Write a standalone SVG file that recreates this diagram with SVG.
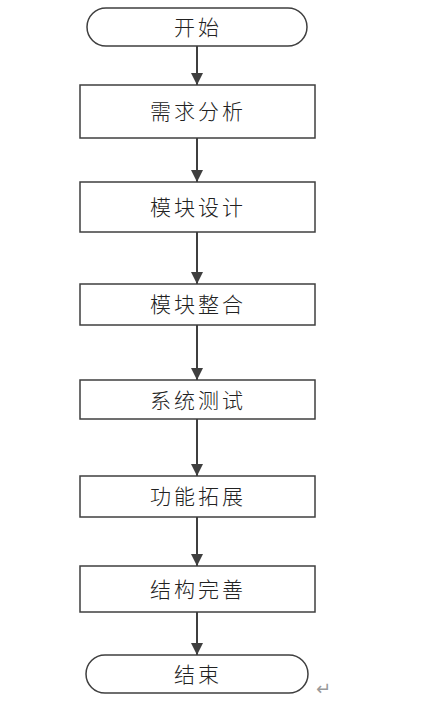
<svg xmlns="http://www.w3.org/2000/svg" width="422" height="701" viewBox="0 0 422 701">
<style>
.n{fill:#fff;stroke:#3f3f3f;stroke-width:1.5}
.t{font-family:"Noto Sans CJK SC","Liberation Sans",sans-serif;font-size:21px;font-weight:300;fill:#222;text-anchor:middle;dominant-baseline:central;letter-spacing:3px}
.c{stroke:#3f3f3f;stroke-width:2;fill:none}
</style>
<defs>
<marker id="a" viewBox="0 0 12 12" refX="12" refY="6" markerWidth="12" markerHeight="12" markerUnits="userSpaceOnUse" orient="auto">
<path d="M0,0L12,6L0,12z" fill="#3f3f3f"/>
</marker>
</defs>
<rect width="422" height="701" fill="#fff"/>
<g id="connectors">
<line class="c" x1="197" y1="46" x2="197" y2="85" marker-end="url(#a)"/>
<line class="c" x1="197" y1="138" x2="197" y2="182" marker-end="url(#a)"/>
<line class="c" x1="197" y1="232" x2="197" y2="284" marker-end="url(#a)"/>
<line class="c" x1="197" y1="325" x2="197" y2="380" marker-end="url(#a)"/>
<line class="c" x1="197" y1="419" x2="197" y2="476" marker-end="url(#a)"/>
<line class="c" x1="197" y1="517" x2="197" y2="566" marker-end="url(#a)"/>
<line class="c" x1="197" y1="612" x2="197" y2="655" marker-end="url(#a)"/>
</g>
<g id="start"><rect class="n" x="87" y="8" width="220" height="38" rx="19"/><text class="t" x="198" y="26">开始</text></g>
<g id="n1"><rect class="n" x="80" y="85" width="235" height="53"/><text class="t" x="198" y="110">需求分析</text></g>
<g id="n2"><rect class="n" x="80" y="182" width="235" height="50"/><text class="t" x="198" y="206">模块设计</text></g>
<g id="n3"><rect class="n" x="80" y="284" width="235" height="41"/><text class="t" x="198" y="303">模块整合</text></g>
<g id="n4"><rect class="n" x="80" y="380" width="235" height="39"/><text class="t" x="198" y="399">系统测试</text></g>
<g id="n5"><rect class="n" x="80" y="476" width="235" height="41"/><text class="t" x="198" y="495">功能拓展</text></g>
<g id="n6"><rect class="n" x="80" y="566" width="235" height="46"/><text class="t" x="198" y="588">结构完善</text></g>
<g id="end"><rect class="n" x="86" y="655" width="222" height="38" rx="19"/><text class="t" x="198" y="673">结束</text></g>
<text x="316" y="695" font-family="DejaVu Sans,sans-serif" font-size="18" fill="#999">↵</text>
</svg>
